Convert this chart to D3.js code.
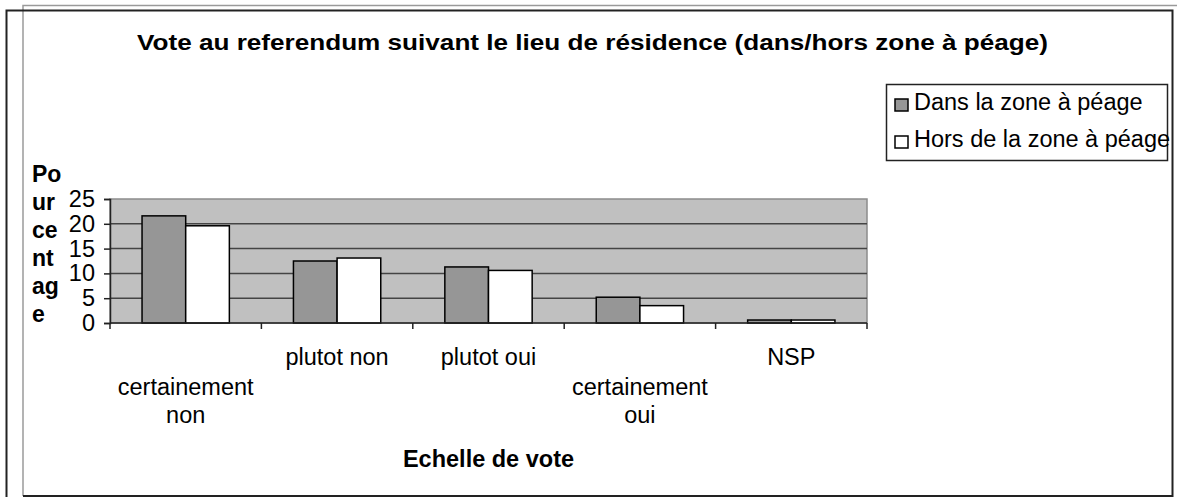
<!DOCTYPE html>
<html>
<head>
<meta charset="utf-8">
<script src="https://cdn.jsdelivr.net/npm/d3@7"></script>
<style>
  body { margin: 0; background: #fff; }
  svg text { font-family: "Liberation Sans", Arial, sans-serif; fill: #000; }
</style>
</head>
<body>
<svg id="chart" width="1177" height="497"></svg>
<script>
// data
var categories = ["certainement non", "plutot non", "plutot oui", "certainement oui", "NSP"];
var catLines = [["certainement", "non"], ["plutot non"], ["plutot oui"], ["certainement", "oui"], ["NSP"]];
var catRow = [1, 0, 0, 1, 0]; // excel staggers long labels one row down
var seriesNames = ["Dans la zone à péage", "Hors de la zone à péage"];
var dansZone = [21.6, 12.5, 11.3, 5.2, 0.6];
var horsZone = [19.6, 13.1, 10.6, 3.5, 0.6];
var yTicks = [0, 5, 10, 15, 20, 25];
var yTitle = ["Po", "ur", "ce", "nt", "ag", "e"];

var colors = ["#969696", "#ffffff"];

var svg = d3.select("#chart");

// frames
svg.append("path")
  .attr("d", "M23,496 V5.5 H1177")
  .attr("fill", "none").attr("stroke", "#9a9a9a").attr("stroke-width", 1.5);
svg.append("path")
  .attr("d", "M6.5,497 V10.5 H1172.5 V496 H23")
  .attr("fill", "none").attr("stroke", "#222").attr("stroke-width", 2);

var pLeft = 110, pRight = 867, pTop = 199, pBottom = 323;

var x = d3.scaleBand().domain(categories).range([pLeft, pRight]).paddingInner(0).paddingOuter(0);
var xs = d3.scaleBand().domain([0, 1]).range([0, x.bandwidth()]).paddingInner(0).paddingOuter(0.734);
var y = d3.scaleLinear().domain([0, 25]).range([pBottom, pTop]);

// plot background
svg.append("rect")
  .attr("x", pLeft).attr("y", pTop)
  .attr("width", pRight - pLeft).attr("height", pBottom - pTop)
  .attr("fill", "#c0c0c0")
  .attr("stroke", "#8c8c8c").attr("stroke-width", 1.5);

// gridlines
svg.append("g").selectAll("line")
  .data(yTicks.filter(function (d) { return d > 0 && d < 25; }))
  .enter().append("line")
  .attr("x1", pLeft).attr("x2", pRight)
  .attr("y1", function (d) { return y(d); }).attr("y2", function (d) { return y(d); })
  .attr("stroke", "#444").attr("stroke-width", 1.5);

// bars
var rows = categories.map(function (c, i) { return { cat: c, vals: [dansZone[i], horsZone[i]] }; });
var grp = svg.append("g").selectAll("g")
  .data(rows).enter().append("g")
  .attr("transform", function (d) { return "translate(" + x(d.cat) + ",0)"; });
grp.selectAll("rect")
  .data(function (d) { return d.vals; })
  .enter().append("rect")
  .attr("x", function (d, i) { return xs(i); })
  .attr("width", xs.bandwidth())
  .attr("y", function (d) { return y(d); })
  .attr("height", function (d) { return y(0) - y(d); })
  .attr("fill", function (d, i) { return colors[i]; })
  .attr("stroke", "#000").attr("stroke-width", 1.5);

// y axis
var yAxis = svg.append("g")
  .attr("transform", "translate(" + pLeft + ",0)")
  .call(d3.axisLeft(y).tickValues(yTicks).tickSize(6).tickPadding(9));
yAxis.select(".domain").attr("stroke", "#222").attr("stroke-width", 1.5);
yAxis.selectAll(".tick line").attr("stroke", "#222").attr("stroke-width", 1.5);
yAxis.selectAll(".tick text")
  .style("font-size", "23.5px").style("font-family", "'Liberation Sans', Arial, sans-serif")
  .attr("fill", "#000");

// x axis line + ticks between categories
svg.append("line")
  .attr("x1", pLeft).attr("x2", pRight).attr("y1", pBottom).attr("y2", pBottom)
  .attr("stroke", "#222").attr("stroke-width", 1.5);
var bounds = categories.map(function (c) { return x(c); }).concat([x.range()[1]]);
svg.append("g").selectAll("line")
  .data(bounds).enter().append("line")
  .attr("x1", function (d) { return d; }).attr("x2", function (d) { return d; })
  .attr("y1", pBottom).attr("y2", pBottom + 6)
  .attr("stroke", "#222").attr("stroke-width", 1.5);

// x labels
var rowBase = [365, 395];
var lab = svg.append("g").selectAll("text")
  .data(categories).enter().append("text")
  .attr("text-anchor", "middle")
  .style("font-size", "23.5px")
  .attr("x", function (d) { return x(d) + x.bandwidth() / 2; })
  .attr("y", function (d, i) { return rowBase[catRow[i]]; });
lab.each(function (d, i) {
  var t = d3.select(this);
  catLines[i].forEach(function (s, k) {
    t.append("tspan").attr("x", x(d) + x.bandwidth() / 2).attr("dy", k === 0 ? 0 : 28).text(s);
  });
});

// titles
svg.append("text")
  .attr("x", 137).attr("y", 50)
  .attr("textLength", 911).attr("lengthAdjust", "spacingAndGlyphs")
  .style("font-size", "22px").style("font-weight", "bold")
  .text("Vote au referendum suivant le lieu de résidence (dans/hors zone à péage)");

svg.append("text")
  .attr("x", (pLeft + pRight) / 2).attr("y", 467)
  .attr("text-anchor", "middle")
  .style("font-size", "23.5px").style("font-weight", "bold")
  .text("Echelle de vote");

svg.append("g").selectAll("text")
  .data(yTitle).enter().append("text")
  .attr("x", 32).attr("y", function (d, i) { return 182 + i * 28; })
  .style("font-size", "23px").style("font-weight", "bold")
  .text(function (d) { return d; });

// legend
var legend = svg.append("g");
legend.append("rect")
  .attr("x", 886.5).attr("y", 84.5).attr("width", 281).attr("height", 76)
  .attr("fill", "#fff").attr("stroke", "#222").attr("stroke-width", 1.5);
var items = legend.selectAll("g.item")
  .data(seriesNames).enter().append("g").attr("class", "item")
  .attr("transform", function (d, i) { return "translate(0," + (i * 37) + ")"; });
items.append("rect")
  .attr("x", 895).attr("y", 99).attr("width", 13).attr("height", 12)
  .attr("fill", function (d, i) { return colors[i]; })
  .attr("stroke", "#000").attr("stroke-width", 1.5);
items.append("text")
  .attr("x", 914).attr("y", 110)
  .style("font-size", "23.5px")
  .text(function (d) { return d; });
</script>
</body>
</html>
